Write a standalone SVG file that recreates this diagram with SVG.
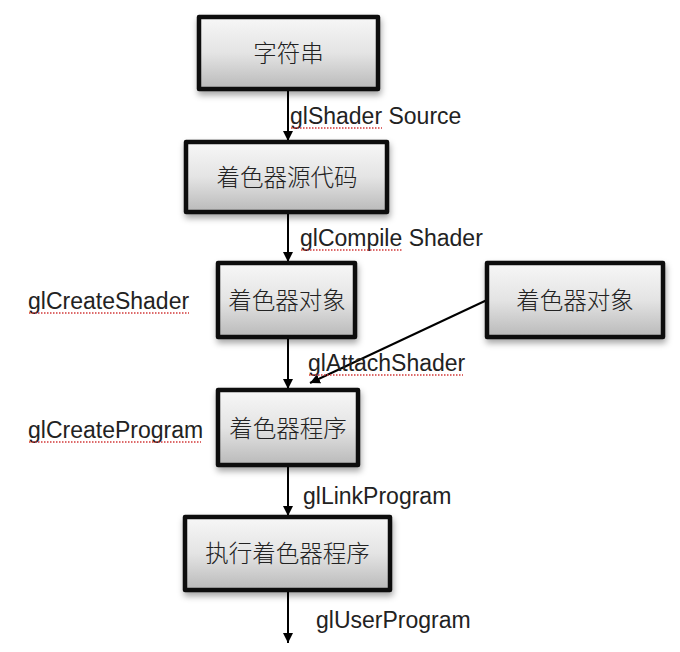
<svg xmlns="http://www.w3.org/2000/svg" width="680" height="652" viewBox="0 0 680 652">
<defs>
<linearGradient id="g" x1="0" y1="0" x2="0" y2="1">
<stop offset="0" stop-color="#f7f7f7"/>
<stop offset="0.5" stop-color="#e4e4e4"/>
<stop offset="1" stop-color="#b9b9b9"/>
</linearGradient>
<filter id="sh" x="-10%" y="-10%" width="130%" height="140%">
<feDropShadow dx="1" dy="4" stdDeviation="3" flood-color="#000" flood-opacity="0.35"/>
</filter>
<marker id="ah" viewBox="0 0 10 10" refX="10" refY="5" markerWidth="5" markerHeight="5" orient="auto" markerUnits="strokeWidth">
<path d="M0,0 L10,5 L0,10 z" fill="#000"/>
</marker>
</defs>
<style>
.box{fill:url(#g);stroke:#111;stroke-width:4.5;stroke-linejoin:round;filter:url(#sh)}
.bt{font-family:"Noto Sans CJK SC","Liberation Sans",sans-serif;font-size:23.5px;font-weight:300;fill:#222;text-anchor:middle}
.lb{font-family:"Liberation Sans","Noto Sans",sans-serif;font-size:23px;fill:#222}
.c{stroke:#000;stroke-width:2;fill:none;marker-end:url(#ah)}
.sq{stroke:#d23a3a;stroke-width:1.3;stroke-dasharray:1.5 1.5;fill:none}
</style>
<rect width="680" height="652" fill="#fff"/>
<g id="connectors">
<line class="c" x1="288" y1="90" x2="288" y2="141"/>
<line class="c" x1="288" y1="212" x2="288" y2="262"/>
<line class="c" x1="288" y1="337" x2="288" y2="389"/>
<line class="c" x1="487" y1="300" x2="310" y2="383"/>
<line class="c" x1="288" y1="465" x2="288" y2="516"/>
<line class="c" x1="288" y1="590" x2="288" y2="643"/>
</g>
<g id="n1"><rect class="box" x="199" y="17" width="179" height="72"/><text class="bt" x="288.5" y="62">字符串</text></g>
<g id="n2"><rect class="box" x="186" y="142" width="201" height="70"/><text class="bt" x="287" y="186">着色器源代码</text></g>
<g id="n3"><rect class="box" x="218" y="263" width="137" height="74"/><text class="bt" x="287" y="309">着色器对象</text></g>
<g id="n4"><rect class="box" x="487" y="263" width="176" height="74"/><text class="bt" x="575" y="309">着色器对象</text></g>
<g id="n5"><rect class="box" x="218" y="390" width="140" height="75"/><text class="bt" x="288" y="437">着色器程序</text></g>
<g id="n6"><rect class="box" x="185" y="517" width="205" height="73"/><text class="bt" x="287.5" y="562">执行着色器程序</text></g>
<g id="labels">
<text class="lb" x="290" y="124">glShader Source</text>
<path class="sq" d="M291,128 H382"/>
<text class="lb" x="300" y="246">glCompile Shader</text>
<path class="sq" d="M301,250 H403"/>
<text class="lb" x="28" y="309">glCreateShader</text>
<path class="sq" d="M29,313 H189"/>
<text class="lb" x="308" y="371">glAttachShader</text>
<path class="sq" d="M309,375 H463"/>
<text class="lb" x="28" y="438">glCreateProgram</text>
<path class="sq" d="M29,442 H201"/>
<text class="lb" x="303" y="504">glLinkProgram</text>
<text class="lb" x="316" y="628">glUserProgram</text>
</g>
</svg>
